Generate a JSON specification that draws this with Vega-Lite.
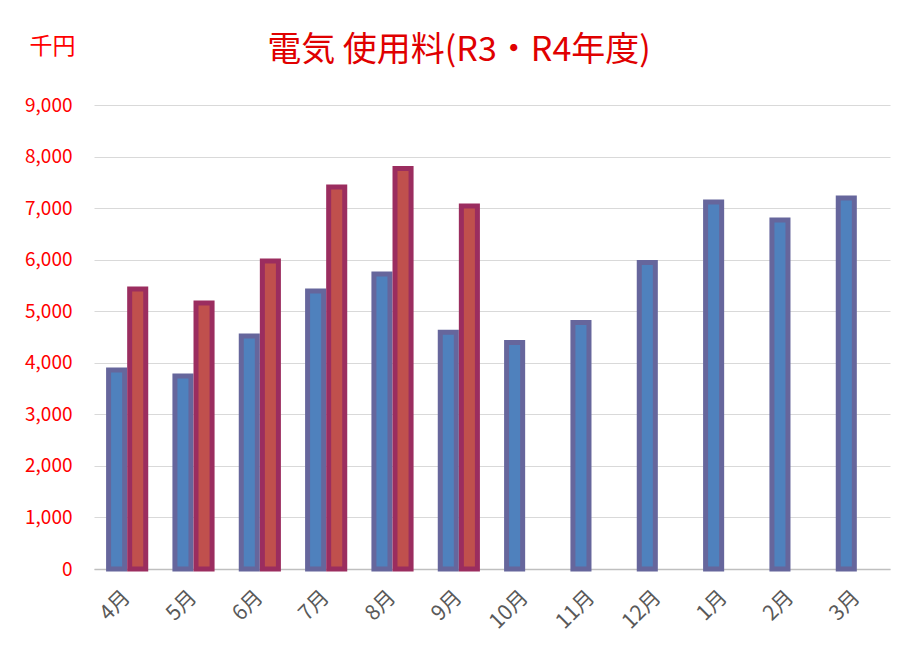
{
  "$schema": "https://vega.github.io/schema/vega-lite/v6.json",
  "width": 796,
  "height": 464,
  "autosize": {"type": "none"},
  "padding": {"left": 94, "top": 105, "right": 16, "bottom": 94},
  "background": "white",
  "config": {"view": {"stroke": null}, "font": "Noto Sans CJK JP"},
  "title": {
    "text": "電気 使用料(R3・R4年度)",
    "font": "Noto Sans CJK JP",
    "fontSize": 34,
    "fontWeight": "normal",
    "color": "#E00000",
    "anchor": "middle",
    "frame": "group",
    "dx": -33,
    "offset": -33
  },
  "data": {
    "values": [
      {"month": "4月", "year": "R3", "value": 3860},
      {"month": "4月", "year": "R4", "value": 5430},
      {"month": "5月", "year": "R3", "value": 3745},
      {"month": "5月", "year": "R4", "value": 5160},
      {"month": "6月", "year": "R3", "value": 4520},
      {"month": "6月", "year": "R4", "value": 5975},
      {"month": "7月", "year": "R3", "value": 5390},
      {"month": "7月", "year": "R4", "value": 7410},
      {"month": "8月", "year": "R3", "value": 5720},
      {"month": "8月", "year": "R4", "value": 7770},
      {"month": "9月", "year": "R3", "value": 4590},
      {"month": "9月", "year": "R4", "value": 7040},
      {"month": "10月", "year": "R3", "value": 4395},
      {"month": "11月", "year": "R3", "value": 4780},
      {"month": "12月", "year": "R3", "value": 5945},
      {"month": "1月", "year": "R3", "value": 7120},
      {"month": "2月", "year": "R3", "value": 6770},
      {"month": "3月", "year": "R3", "value": 7195}
    ]
  },
  "mark": {"type": "bar", "strokeWidth": 5, "strokeJoin": "miter"},
  "encoding": {
    "x": {
      "field": "month",
      "type": "nominal",
      "sort": ["4月","5月","6月","7月","8月","9月","10月","11月","12月","1月","2月","3月"],
      "scale": {"paddingInner": 0.44, "paddingOuter": 0.22},
      "axis": {
        "title": null,
        "labelAngle": -45,
        "labelAlign": "right",
        "labelBaseline": "middle",
        "labelColor": "#595959",
        "labelFontSize": 21,
        "labelFont": "Noto Sans CJK JP",
        "labelPadding": 25,
        "ticks": false,
        "domainColor": "#BFBFBF",
        "domainWidth": 1.5
      }
    },
    "xOffset": {
      "field": "year",
      "type": "nominal",
      "scale": {"domain": ["R3", "R4"], "paddingInner": 0.238, "paddingOuter": 0}
    },
    "y": {
      "field": "value",
      "type": "quantitative",
      "scale": {"domain": [0, 9000], "nice": false},
      "axis": {
        "values": [0,1000,2000,3000,4000,5000,6000,7000,8000,9000],
        "format": ",.0f",
        "labelColor": "#FF0000",
        "labelFontSize": 19,
        "labelFont": "Noto Sans CJK JP",
        "labelPadding": 22,
        "ticks": false,
        "domain": false,
        "gridColor": "#D9D9D9",
        "gridWidth": 1.2,
        "title": "千円",
        "titleAngle": 0,
        "titleX": -42,
        "titleY": -59,
        "titleAlign": "center",
        "titleBaseline": "middle",
        "titleColor": "#FF0000",
        "titleFontSize": 23,
        "titleFontWeight": "normal",
        "titleFont": "Noto Sans CJK JP"
      }
    },
    "color": {
      "field": "year",
      "type": "nominal",
      "scale": {"domain": ["R3", "R4"], "range": ["#4F81BD", "#C0504D"]},
      "legend": null
    },
    "stroke": {
      "field": "year",
      "type": "nominal",
      "scale": {"domain": ["R3", "R4"], "range": ["#66669C", "#9B2D5F"]},
      "legend": null
    }
  }
}
